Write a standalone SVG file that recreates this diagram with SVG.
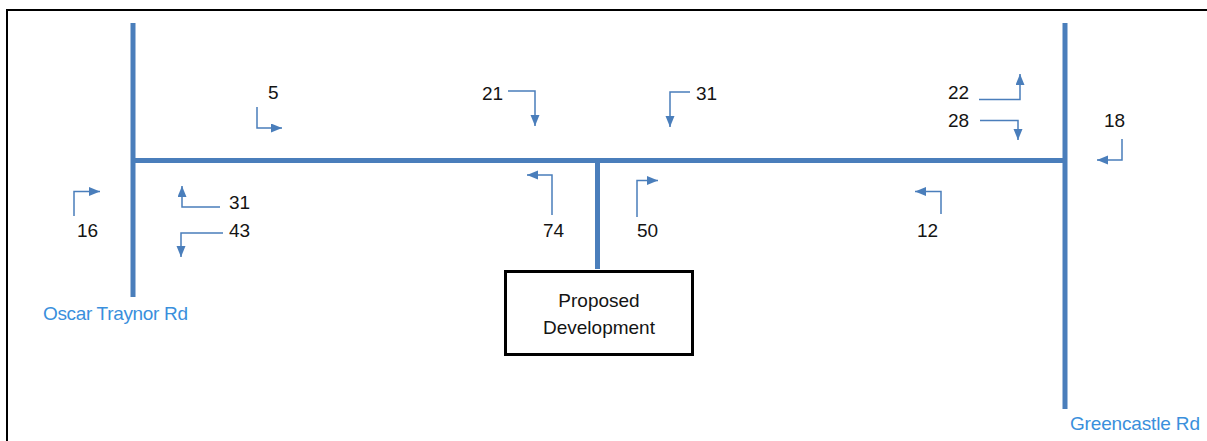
<svg xmlns="http://www.w3.org/2000/svg" width="1207" height="441" viewBox="0 0 1207 441">
  <style>
    .road { stroke: #4a7ebb; stroke-width: 5; fill: none; }
    .turn { stroke: #4a7ebb; stroke-width: 1.5; fill: none; marker-end: url(#head); }
    .count { font-family: "Liberation Sans", Arial, sans-serif; font-size: 19px; fill: #141414; }
    .roadname { font-family: "Liberation Sans", Arial, sans-serif; font-size: 19px; fill: #3a8fdc; }
    .boxtext { font-family: "Liberation Sans", Arial, sans-serif; font-size: 19px; fill: #141414; text-anchor: middle; }
  </style>
  <defs>
    <marker id="head" markerUnits="userSpaceOnUse" markerWidth="12" markerHeight="10" refX="11" refY="4.5" orient="auto">
      <path d="M0,0 L11,4.5 L0,9 Z" fill="#4a7ebb"/>
    </marker>
  </defs>

  <rect width="1207" height="441" fill="#ffffff"/>
  <!-- page frame -->
  <path d="M7,441 V10 H1207" fill="none" stroke="#000" stroke-width="2"/>

  <!-- road network -->
  <g id="roads">
    <line class="road" x1="133" y1="23" x2="133" y2="297"/>
    <line class="road" x1="1065" y1="23" x2="1065" y2="409"/>
    <line class="road" x1="133" y1="160.5" x2="1065" y2="160.5"/>
    <line class="road" x1="597.5" y1="160.5" x2="597.5" y2="269"/>
  </g>

  <g id="oscar-traynor-rd">
    <text class="roadname" x="43" y="320" textLength="145">Oscar Traynor Rd</text>
  </g>
  <g id="greencastle-rd">
    <text class="roadname" x="1070" y="430" textLength="130">Greencastle Rd</text>
  </g>

  <g id="proposed-development">
    <rect x="505.5" y="271.5" width="187" height="83" fill="#fff" stroke="#000" stroke-width="3"/>
    <text class="boxtext" x="599" y="307">Proposed</text>
    <text class="boxtext" x="599" y="334">Development</text>
  </g>

  <!-- turning movement counts -->
  <g id="counts">
    <text class="count" x="268" y="99">5</text>
    <text class="count" x="482" y="100">21</text>
    <text class="count" x="696" y="100">31</text>
    <text class="count" x="948" y="99">22</text>
    <text class="count" x="948" y="127">28</text>
    <text class="count" x="1104" y="127">18</text>
    <text class="count" x="77" y="237">16</text>
    <text class="count" x="229" y="209">31</text>
    <text class="count" x="229" y="237">43</text>
    <text class="count" x="543" y="237">74</text>
    <text class="count" x="637" y="237">50</text>
    <text class="count" x="917" y="237">12</text>
  </g>

  <!-- turn arrows -->
  <g id="connectors">
    <path class="turn" d="M257,107 V128 H282"/>
    <path class="turn" d="M508,91 H535 V126"/>
    <path class="turn" d="M690,92 H670 V127"/>
    <path class="turn" d="M979,99.5 H1020 V74"/>
    <path class="turn" d="M980,120.5 H1018 V140"/>
    <path class="turn" d="M1122,139 V160 H1097"/>
    <path class="turn" d="M74,216 V191.5 H100"/>
    <path class="turn" d="M220,207 H182 V186"/>
    <path class="turn" d="M223,233 H181 V257"/>
    <path class="turn" d="M552,215 V175 H527"/>
    <path class="turn" d="M637,217 V180.5 H658"/>
    <path class="turn" d="M941,214 V191.5 H915"/>
  </g>
</svg>
